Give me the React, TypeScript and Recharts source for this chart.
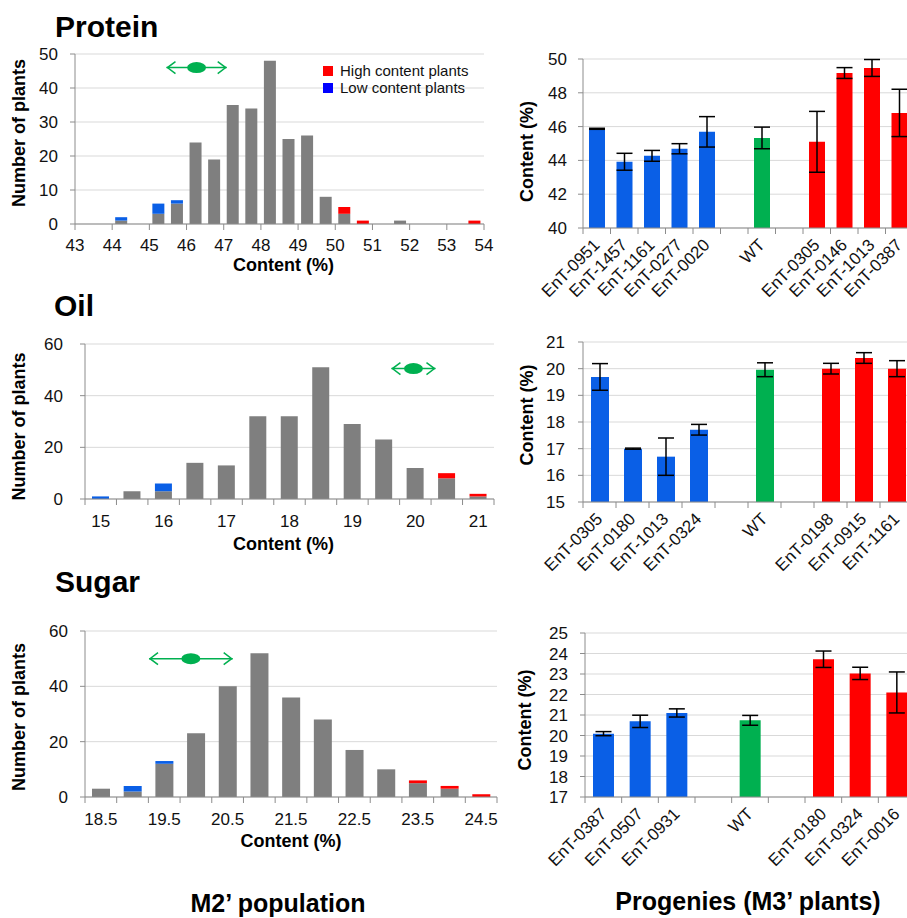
import React from 'react';
import { BarChart, Bar, XAxis, YAxis, CartesianGrid, ErrorBar, Cell, ReferenceLine, Legend } from 'recharts';

const FONT = '"Liberation Sans", Arial, Helvetica, sans-serif';
const GRAY = '#7f7f7f';
const BLUE = '#0a5fe6';
const RED = '#ff0000';
const GREEN = '#00b050';
const AXIS = '#8c8c8c';
const GRID = '#d9d9d9';
const TEXT = '#111111';

// ---------- M2' population histograms ----------
// Protein
const proteinBins = [43.25, 43.75, 44.25, 44.75, 45.25, 45.75, 46.25, 46.75, 47.25, 47.75, 48.25, 48.75, 49.25, 49.75, 50.25, 50.75, 51.25, 51.75, 52.25, 52.75, 53.25, 53.75];
const proteinOther = [0, 0, 1, 0, 3, 6, 24, 19, 35, 34, 48, 25, 26, 8, 3, 0, 0, 1, 0, 0, 0, 0];
const proteinLow = [0, 0, 1, 0, 3, 1, 0, 0, 0, 0, 0, 0, 0, 0, 0, 0, 0, 0, 0, 0, 0, 0];
const proteinHigh = [0, 0, 0, 0, 0, 0, 0, 0, 0, 0, 0, 0, 0, 0, 2, 1, 0, 0, 0, 0, 0, 1];
const proteinTickLabels = [43, 44, 45, 46, 47, 48, 49, 50, 51, 52, 53, 54];
const proteinTickEdges = [43, 44, 45, 46, 47, 48, 49, 50, 51, 52, 53, 54];
const proteinYTicks = [0, 10, 20, 30, 40, 50];
const proteinWT = { mean: 46.27, spread: 0.81, level: 46 };

// Oil
const oilBins = [15, 15.5, 16, 16.5, 17, 17.5, 18, 18.5, 19, 19.5, 20, 20.5, 21];
const oilOther = [0, 3, 3, 14, 13, 32, 32, 51, 29, 23, 12, 8, 1];
const oilLow = [1, 0, 3, 0, 0, 0, 0, 0, 0, 0, 0, 0, 0];
const oilHigh = [0, 0, 0, 0, 0, 0, 0, 0, 0, 0, 0, 2, 1];
const oilTickLabels = [15, 16, 17, 18, 19, 20, 21];
const oilTickEdges = [14.75, 15.25, 15.75, 16.25, 16.75, 17.25, 17.75, 18.25, 18.75, 19.25, 19.75, 20.25, 20.75, 21.25];
const oilYTicks = [0, 20, 40, 60];
const oilWT = { mean: 19.97, spread: 0.35, level: 50.5 };

// Sugar
const sugarBins = [18.5, 19, 19.5, 20, 20.5, 21, 21.5, 22, 22.5, 23, 23.5, 24, 24.5];
const sugarOther = [3, 2, 12, 23, 40, 52, 36, 28, 17, 10, 5, 3, 0];
const sugarLow = [0, 2, 1, 0, 0, 0, 0, 0, 0, 0, 0, 0, 0];
const sugarHigh = [0, 0, 0, 0, 0, 0, 0, 0, 0, 0, 1, 1, 1];
const sugarTickLabels = [18.5, 19.5, 20.5, 21.5, 22.5, 23.5, 24.5];
const sugarTickEdges = [18.25, 18.75, 19.25, 19.75, 20.25, 20.75, 21.25, 21.75, 22.25, 22.75, 23.25, 23.75, 24.25, 24.75];
const sugarYTicks = [0, 20, 40, 60];
const sugarWT = { mean: 19.92, spread: 0.66, level: 50 };

const legendItems = [
  { label: 'High content plants', color: '#ff0000' },
  { label: 'Low content plants', color: '#0000ff' },
];

// ---------- Progenies (M3' plants) ----------
const proteinLines = ['EnT-0951', 'EnT-1457', 'EnT-1161', 'EnT-0277', 'EnT-0020', '', 'WT', ' ', 'EnT-0305', 'EnT-0146', 'EnT-1013', 'EnT-0387'];
const proteinMeans = [45.87, 43.92, 44.27, 44.69, 45.69, null, 45.33, null, 45.1, 49.17, 49.47, 46.81];
const proteinErrs = [0.03, 0.5, 0.32, 0.3, 0.9, null, 0.64, null, 1.8, 0.32, 0.5, 1.4];
const proteinGroups = ['low', 'low', 'low', 'low', 'low', 'gap', 'wt', 'gap', 'high', 'high', 'high', 'high'];
const proteinContentTicks = [40, 42, 44, 46, 48, 50];

const oilLines = ['EnT-0305', 'EnT-0180', 'EnT-1013', 'EnT-0324', '', 'WT', ' ', 'EnT-0198', 'EnT-0915', 'EnT-1161'];
const oilMeans = [19.69, 17.0, 16.7, 17.71, null, 19.96, null, 20.0, 20.4, 20.0];
const oilErrs = [0.5, 0.02, 0.7, 0.2, null, 0.26, null, 0.2, 0.2, 0.3];
const oilGroups = ['low', 'low', 'low', 'low', 'gap', 'wt', 'gap', 'high', 'high', 'high'];
const oilContentTicks = [15, 16, 17, 18, 19, 20, 21];

const sugarLines = ['EnT-0387', 'EnT-0507', 'EnT-0931', '', 'WT', ' ', 'EnT-0180', 'EnT-0324', 'EnT-0016'];
const sugarMeans = [20.09, 20.69, 21.1, null, 20.74, null, 23.72, 23.03, 22.1];
const sugarErrs = [0.1, 0.3, 0.2, null, 0.24, null, 0.4, 0.3, 1.0];
const sugarGroups = ['low', 'low', 'low', 'gap', 'wt', 'gap', 'high', 'high', 'high'];
const sugarContentTicks = [17, 18, 19, 20, 21, 22, 23, 24, 25];

const groupColor: Record<string, string> = { low: BLUE, wt: GREEN, high: RED, gap: 'transparent' };

// ---------- helpers ----------
function HistTick(props: any) {
  const { x, y, payload, labels, edges, labelDy } = props;
  const v = payload.value;
  return (
    <g>
      {edges.includes(v) && <line x1={x} x2={x} y1={y} y2={y + 6} stroke={AXIS} strokeWidth={1} />}
      {labels.includes(v) && (
        <text x={x} y={y + labelDy} textAnchor="middle" fontSize={17} fill={TEXT} fontFamily={FONT}>
          {String(v)}
        </text>
      )}
    </g>
  );
}

function RotTick(props: any) {
  const { x, y, payload, bandHalf } = props;
  const half = typeof payload.offset === 'number' && payload.offset > 0 ? payload.offset : bandHalf;
  const tx = x + 4;
  const ty = y + 18;
  return (
    <g>
      {half > 0 && <line x1={x - half} x2={x - half} y1={y} y2={y + 6} stroke={AXIS} strokeWidth={1} />}
      <text x={tx} y={ty} transform={`rotate(-45, ${tx}, ${ty})`} textAnchor="end" fontSize={17} fill={TEXT} fontFamily={FONT}>
        {payload.value}
      </text>
    </g>
  );
}

function WTArrow(props: any) {
  const { x1, y1, x2, y2 } = props;
  const mx = (x1 + x2) / 2;
  const my = (y1 + y2) / 2;
  return (
    <g>
      <line x1={x1} y1={y1} x2={x2} y2={y2} stroke={GREEN} strokeWidth={1.5} />
      <polyline points={`${x1 + 9},${y1 - 6} ${x1 + 1},${y1} ${x1 + 9},${y1 + 6}`} stroke={GREEN} strokeWidth={1.5} fill="none" />
      <polyline points={`${x2 - 9},${y2 - 6} ${x2 - 1},${y2} ${x2 - 9},${y2 + 6}`} stroke={GREEN} strokeWidth={1.5} fill="none" />
      <ellipse cx={mx} cy={my} rx={9.5} ry={5.5} fill={GREEN} />
    </g>
  );
}

function LegendBox() {
  return (
    <div style={{ fontFamily: FONT, fontSize: 15, color: TEXT, lineHeight: '17px' }}>
      {legendItems.map((it) => (
        <div key={it.label} style={{ display: 'flex', alignItems: 'center', height: 17, whiteSpace: 'nowrap' }}>
          <span style={{ display: 'inline-block', width: 10, height: 10, background: it.color, marginRight: 7 }} />
          {it.label}
        </div>
      ))}
    </div>
  );
}

const axisTitle = { fill: '#000', fontSize: 18, fontWeight: 'bold', fontFamily: FONT } as any;

function Histogram(p: any) {
  const data = p.bins.map((b: number, i: number) => ({ bin: b, other: p.other[i], low: p.low[i], high: p.high[i] }));
  const allTicks = Array.from(new Set([...p.tickLabels, ...p.tickEdges])).sort((a: any, b: any) => a - b);
  const domain = [p.tickEdges[0], p.tickEdges[p.tickEdges.length - 1]];
  return (
    <div style={{ position: 'absolute', left: p.left, top: p.top }}>
      <BarChart width={p.width} height={p.height} data={data} margin={{ top: p.marginTop, right: p.marginRight, bottom: 0, left: 0 }} barSize={p.barSize}>
        <CartesianGrid vertical={false} stroke={GRID} />
        <XAxis
          type="number"
          dataKey="bin"
          domain={domain}
          ticks={allTicks}
          interval={0}
          allowDataOverflow
          tickLine={false}
          tickSize={0}
          tickMargin={0}
          tick={(tp: any) => <HistTick {...tp} labels={p.tickLabels} edges={p.tickEdges} labelDy={p.tickLabelDy} />}
          axisLine={{ stroke: AXIS }}
          height={p.xAxisHeight}
          label={{ value: 'Content (%)', position: 'insideBottom', offset: p.xLabelOffset, dx: p.xLabelDx, ...axisTitle }}
        />
        <YAxis
          type="number"
          domain={[p.yTicks[0], p.yTicks[p.yTicks.length - 1]]}
          ticks={p.yTicks}
          interval={0}
          allowDataOverflow
          width={p.yAxisWidth}
          tickSize={5}
          tickMargin={p.yTickMargin}
          tick={{ fontSize: 17, fill: TEXT, fontFamily: FONT }}
          axisLine={{ stroke: AXIS }}
          tickLine={{ stroke: AXIS }}
          label={{ value: 'Number of plants', angle: -90, position: 'insideLeft', offset: 19, dy: p.yLabelDy, style: { textAnchor: 'middle' }, ...axisTitle }}
        />
        <Bar dataKey="other" stackId="s" fill={GRAY} isAnimationActive={false} />
        <Bar dataKey="low" stackId="s" fill={BLUE} isAnimationActive={false} />
        <Bar dataKey="high" stackId="s" fill={RED} isAnimationActive={false} />
        <ReferenceLine
          segment={[{ x: p.wt.mean - p.wt.spread, y: p.wt.level }, { x: p.wt.mean + p.wt.spread, y: p.wt.level }]}
          shape={(sp: any) => <WTArrow {...sp} />}
        />
        {p.showLegend && (
          <Legend
            layout="vertical"
            align="center"
            verticalAlign="middle"
            content={() => <LegendBox />}
            wrapperStyle={{ left: 323, top: 62, width: 170, height: 34 }}
          />
        )}
      </BarChart>
    </div>
  );
}

function Progeny(p: any) {
  const data = p.lines.map((n: string, i: number) => ({ name: n, value: p.means[i], err: p.errs[i], group: p.groups[i] }));
  const bandHalf = (p.width - p.yAxisWidth) / p.lines.length / 2;
  return (
    <div style={{ position: 'absolute', left: p.left, top: p.top }}>
      <BarChart width={p.width} height={p.height} data={data} margin={{ top: p.marginTop, right: 0, bottom: 0, left: 0 }} barSize={p.barSize}>
        <CartesianGrid vertical={false} stroke={GRID} />
        <XAxis
          dataKey="name"
          interval={0}
          tickLine={false}
          tickSize={0}
          tickMargin={0}
          tick={(tp: any) => <RotTick {...tp} bandHalf={bandHalf} />}
          axisLine={{ stroke: AXIS }}
          height={p.xAxisHeight}
        />
        <YAxis
          type="number"
          domain={[p.yTicks[0], p.yTicks[p.yTicks.length - 1]]}
          ticks={p.yTicks}
          interval={0}
          allowDataOverflow
          width={p.yAxisWidth}
          tickSize={5}
          tickMargin={p.yTickMargin}
          tick={{ fontSize: 17, fill: TEXT, fontFamily: FONT }}
          axisLine={{ stroke: AXIS }}
          tickLine={{ stroke: AXIS }}
          label={{ value: 'Content (%)', angle: -90, position: 'insideLeft', offset: p.yLabelX, dy: p.yLabelDy, style: { textAnchor: 'middle' }, ...axisTitle }}
        />
        <Bar dataKey="value" isAnimationActive={false}>
          {data.map((d: any, i: number) => (
            <Cell key={i} fill={groupColor[d.group]} />
          ))}
          <ErrorBar dataKey="err" width={8} stroke="#000" strokeWidth={1.5} />
        </Bar>
      </BarChart>
    </div>
  );
}

export default function App() {
  return (
    <div style={{ position: 'absolute', left: 0, top: 0, width: 907, height: 918, overflow: 'hidden', background: '#fff' }}>
      <Histogram
        left={0} top={0} width={500} height={290} marginTop={54} marginRight={16}
        yAxisWidth={75} xAxisHeight={66} xLabelOffset={19} xLabelDx={4} yLabelDy={-6} yTickMargin={12} barSize={12} tickLabelDy={27}
        bins={proteinBins} other={proteinOther} low={proteinLow} high={proteinHigh}
        tickLabels={proteinTickLabels} tickEdges={proteinTickEdges} yTicks={proteinYTicks} wt={proteinWT} showLegend
      />
      <Histogram
        left={0} top={280} width={510} height={290} marginTop={64} marginRight={16}
        yAxisWidth={85} xAxisHeight={71} xLabelOffset={20} xLabelDx={-6} yLabelDy={5} yTickMargin={17} barSize={17} tickLabelDy={28}
        bins={oilBins} other={oilOther} low={oilLow} high={oilHigh}
        tickLabels={oilTickLabels} tickEdges={oilTickEdges} yTicks={oilYTicks} wt={oilWT}
      />
      <Histogram
        left={0} top={590} width={515} height={270} marginTop={41} marginRight={18}
        yAxisWidth={85} xAxisHeight={63} xLabelOffset={13} xLabelDx={0} yLabelDy={3} yTickMargin={12} barSize={18} tickLabelDy={28}
        bins={sugarBins} other={sugarOther} low={sugarLow} high={sugarHigh}
        tickLabels={sugarTickLabels} tickEdges={sugarTickEdges} yTicks={sugarYTicks} wt={sugarWT}
      />
      <Progeny
        left={500} top={0} width={413} height={300} marginTop={59} yAxisWidth={83} xAxisHeight={72}
        yTickMargin={11} yLabelX={27} yLabelDy={8} barSize={16}
        lines={proteinLines} means={proteinMeans} errs={proteinErrs} groups={proteinGroups} yTicks={proteinContentTicks}
      />
      <Progeny
        left={500} top={300} width={413} height={280} marginTop={42} yAxisWidth={83} xAxisHeight={78}
        yTickMargin={13} yLabelX={27} yLabelDy={-7} barSize={18}
        lines={oilLines} means={oilMeans} errs={oilErrs} groups={oilGroups} yTicks={oilContentTicks}
      />
      <Progeny
        left={500} top={600} width={415} height={270} marginTop={33} yAxisWidth={85} xAxisHeight={73}
        yTickMargin={12} yLabelX={25} yLabelDy={5} barSize={21}
        lines={sugarLines} means={sugarMeans} errs={sugarErrs} groups={sugarGroups} yTicks={sugarContentTicks}
      />
      <svg width={907} height={918} style={{ position: 'absolute', left: 0, top: 0, pointerEvents: 'none' }}>
        <g fontFamily={FONT} fontWeight="bold" fill="#000">
          <text x={55} y={37} fontSize={30}>Protein</text>
          <text x={54} y={316} fontSize={30}>Oil</text>
          <text x={55} y={592} fontSize={30}>Sugar</text>
          <text x={278} y={912} fontSize={25} textAnchor="middle">M2’ population</text>
          <text x={748} y={910} fontSize={25} textAnchor="middle">Progenies (M3’ plants)</text>
        </g>
      </svg>
    </div>
  );
}
